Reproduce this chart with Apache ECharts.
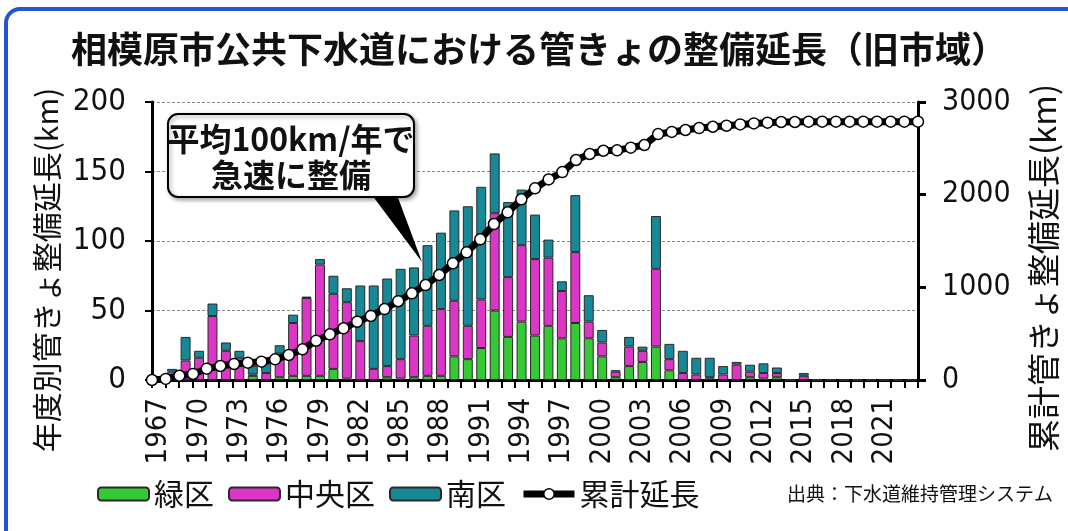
<!DOCTYPE html>
<html>
<head>
<meta charset="utf-8">
<script src="https://cdn.jsdelivr.net/npm/echarts@6/dist/echarts.min.js"></script>
<style>
html,body{margin:0;padding:0;background:#fff;}
#c{width:1068px;height:531px;}
</style>
</head>
<body>
<div id="c"></div>
<script>
var years = [];
for (var y = 1967; y <= 2023; y++) years.push(String(y));

var midori = [0,0,0,0,0,0,0,3,0,2,3,3,3,8,1,0,0,2,1,2,3,3,17,15,23,50,31,42,32,39,30,41,30,17,2,10,13,24,7,0,0,1,0,0,2,1,2,0,0,0,0,0,0,0,0,0,0];
var chuo   = [0,6,14,16,46,21,16,1,5,17,38,56,80,54,55,28,8,8,14,30,36,48,40,24,35,70,43,55,55,49,34,51,12,10,4,14,8,56,8,5,4,1,4,11,4,4,3,0,3,0,0,0,0,0,0,0,0];
var minami = [0,2,17,5,9,6,5,6,7,6,6,1,4,13,10,40,60,63,65,49,58,55,65,86,81,43,54,40,32,13,7,41,19,9,1,7,3,38,11,16,12,14,6,2,5,7,4,0,2,0,0,0,0,0,0,0,0];
var cumulative = [0,12,46,65,122,151,173,187,198,223,270,331,424,493,558,629,691,766,850,935,1025,1133,1259,1378,1518,1683,1809,1950,2068,2165,2244,2374,2439,2474,2478,2507,2536,2654,2677,2698,2719,2733,2744,2758,2769,2777,2784,2784,2788,2788,2788,2788,2788,2788,2788,2788,2788];

var leftTicks = {min:0, max:200, interval:50};
var rightTicks = {min:0, max:3000, interval:1000};

var CJK = "'Noto Sans CJK JP', sans-serif";
var NUM = "'DejaVu Sans Condensed', 'Noto Sans CJK JP', sans-serif";

var chart = echarts.init(document.getElementById('c'), null, {renderer:'canvas'});

var barBorder = {borderColor:'#2a2a2a', borderWidth:1};

var option = {
  animation: false,
  backgroundColor: '#fff',
  title: {
    text: '相模原市公共下水道における管きょの整備延長（旧市域）',
    left: 66, top: 26,
    textStyle: {fontFamily: CJK, fontSize: 36, fontWeight: 'bold', color: '#111'}
  },
  legend: {
    left: 92, top: 474,
    itemWidth: 51, itemHeight: 13, itemGap: 14,
    textStyle: {fontFamily: CJK, fontSize: 30, color: '#111'},
    data: ['緑区','中央区','南区', {name: '累計延長', lineStyle: {width: 7, color: '#000'}, itemStyle: {color: '#fff', borderColor: '#000', borderWidth: 1.5}}]
  },
  grid: {left: 152, right: 150, top: 102, bottom: 151, containLabel: false},
  xAxis: [{
    type: 'category', data: years, boundaryGap: true,
    axisLine: {lineStyle: {color: '#000', width: 3}},
    axisTick: {show: true, interval: 0, length: 8, lineStyle: {color: '#000', width: 2}},
    axisLabel: {interval: 2, rotate: 90, margin: 18, fontFamily: NUM, fontSize: 29, color: '#111'}
  }, {
    type: 'category', data: years, boundaryGap: false, show: false
  }],
  yAxis: [{
    type: 'value', min: leftTicks.min, max: leftTicks.max, interval: leftTicks.interval,
    axisLine: {show: true, lineStyle: {color: '#000', width: 3}},
    axisTick: {show: true, length: 7, lineStyle: {color: '#000', width: 2}},
    axisLabel: {margin: 26, fontFamily: NUM, fontSize: 31, color: '#111'},
    splitLine: {show: true, lineStyle: {color: '#888', width: 1, type: [3,2]}}
  }, {
    type: 'value', min: rightTicks.min, max: rightTicks.max, interval: rightTicks.interval,
    position: 'right',
    axisLine: {show: true, lineStyle: {color: '#000', width: 3}},
    axisTick: {show: true, length: 8, lineStyle: {color: '#000', width: 3}},
    axisLabel: {margin: 24, fontFamily: NUM, fontSize: 30, color: '#111', formatter: function (v) { return String(v); }},
    splitLine: {show: false}
  }],
  series: [{
    name: '緑区', type: 'bar', stack: 'a', data: midori, barWidth: '74%',
    itemStyle: Object.assign({color: '#35c935'}, barBorder)
  }, {
    name: '中央区', type: 'bar', stack: 'a', data: chuo, barWidth: '74%',
    itemStyle: Object.assign({color: '#dc36c6'}, barBorder)
  }, {
    name: '南区', type: 'bar', stack: 'a', data: minami, barWidth: '74%',
    itemStyle: Object.assign({color: '#178896'}, barBorder)
  }, {
    name: '累計延長', type: 'line', xAxisIndex: 1, yAxisIndex: 1, data: cumulative,
    symbol: 'circle', symbolSize: 11, showAllSymbol: true, z: 5,
    lineStyle: {color: '#000', width: 7},
    itemStyle: {color: '#fff', borderColor: '#000', borderWidth: 1.5}
  }],
  graphic: [
    {type: 'rect', z: 100, silent: true,
     shape: {x: 6, y: 9, width: 1090, height: 545, r: 14},
     style: {fill: 'none', stroke: '#2456d3', lineWidth: 4}},
    {type: 'text', z: 100, x: 47, y: 270, rotation: Math.PI/2,
     style: {text: '年度別管きょ整備延長(km)', font: "30px 'Noto Sans CJK JP'", fill: '#111', align: 'center', verticalAlign: 'middle'}},
    {type: 'text', z: 100, x: 1043, y: 268, rotation: Math.PI/2,
     style: {text: '累計管きょ整備延長(km)', font: "33px 'Noto Sans CJK JP'", fill: '#111', align: 'center', verticalAlign: 'middle'}},
    {type: 'text', z: 100, x: 1053, y: 494,
     style: {text: '出典：下水道維持管理システム', font: "19px 'Noto Sans CJK JP'", fill: '#111', align: 'right', verticalAlign: 'middle'}},
    {type: 'polygon', z: 100, shape: {points: [[372,195],[397,195],[422,262]]},
     style: {fill: '#000'}},
    {type: 'rect', z: 101,
     shape: {x: 168, y: 114, width: 246, height: 83, r: 10},
     style: {fill: '#fff', stroke: '#000', lineWidth: 2, shadowBlur: 4, shadowColor: 'rgba(0,0,0,0.35)', shadowOffsetX: 2, shadowOffsetY: 2}},
    {type: 'text', z: 102, x: 291, y: 139,
     style: {text: '平均100km/年で', font: "bold 32px 'Noto Sans CJK JP'", fill: '#111', align: 'center', verticalAlign: 'middle'}},
    {type: 'text', z: 102, x: 291, y: 175,
     style: {text: '急速に整備', font: "bold 32px 'Noto Sans CJK JP'", fill: '#111', align: 'center', verticalAlign: 'middle'}}
  ]
};
chart.setOption(option);
</script>
</body>
</html>
